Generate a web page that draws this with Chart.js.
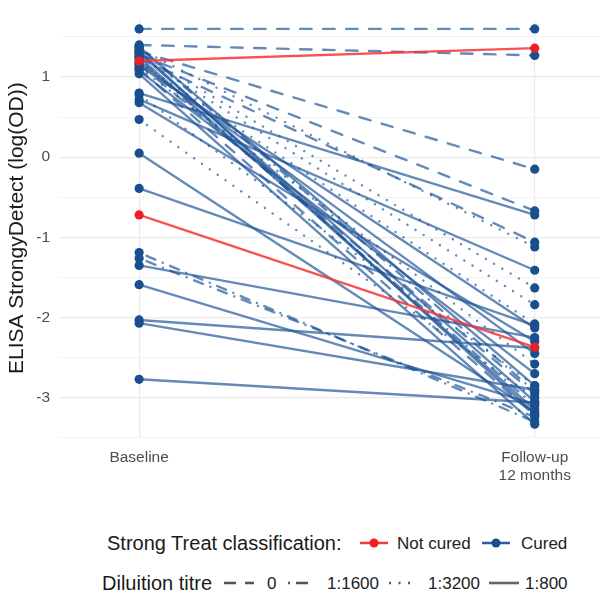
<!DOCTYPE html>
<html>
<head>
<meta charset="utf-8">
<script src="https://cdn.jsdelivr.net/npm/chart.js@4.4.1/dist/chart.umd.min.js"></script>
<style>
  html, body { margin:0; padding:0; background:#fff; }
  body { width:611px; height:601px; position:relative; overflow:hidden; font-family:"Liberation Sans", Arial, sans-serif; }
  #wrap { position:absolute; left:0; top:0; width:611px; height:500px; }
  .lg { position:absolute; white-space:nowrap; color:#1a1a1a; line-height:1; }
  .ttl { font-size:20px; }
  .itm { font-size:17px; color:#222; }
  svg.key { position:absolute; }
</style>
</head>
<body>
<div id="wrap"><canvas id="c" width="611" height="500"></canvas></div>

<div class="lg ttl" style="left:107px; top:533px;">Strong Treat classification:</div>
<svg class="key" style="left:359px; top:533px;" width="30" height="20"><line x1="1" y1="10" x2="29" y2="10" stroke="#F8393C" stroke-width="2.5"/><circle cx="15" cy="10" r="4.5" fill="#F01E24"/></svg>
<div class="lg itm" style="left:397px; top:535px;">Not cured</div>
<svg class="key" style="left:481px; top:533px;" width="30" height="20"><line x1="1" y1="10" x2="29" y2="10" stroke="#2C5E9E" stroke-width="2.5"/><circle cx="15" cy="10" r="4.5" fill="#1A4F8F"/></svg>
<div class="lg itm" style="left:521px; top:535px;">Cured</div>

<div class="lg ttl" style="left:102px; top:573px;">Diluition titre</div>
<svg class="key" style="left:222px; top:573px;" width="34" height="20"><line x1="2" y1="10" x2="32" y2="10" stroke="#555" stroke-width="2.6" stroke-dasharray="12 9"/></svg>
<div class="lg itm" style="left:267px; top:575px;">0</div>
<svg class="key" style="left:286px; top:573px;" width="24" height="20"><line x1="2" y1="10" x2="23" y2="10" stroke="#555" stroke-width="2.6" stroke-dasharray="2 6 12 6"/></svg>
<div class="lg itm" style="left:327px; top:575px;">1:1600</div>
<svg class="key" style="left:387px; top:573px;" width="28" height="20"><line x1="2" y1="10" x2="27" y2="10" stroke="#555" stroke-width="2.6" stroke-dasharray="2 7.5"/></svg>
<div class="lg itm" style="left:428px; top:575px;">1:3200</div>
<svg class="key" style="left:488px; top:573px;" width="32" height="20"><line x1="1" y1="10" x2="31" y2="10" stroke="#666" stroke-width="2.6"/></svg>
<div class="lg itm" style="left:525px; top:575px;">1:800</div>

<script>
// ---- data ----
const timepoints = ["Baseline", ["Follow-up", "12 months"]];
const baseline = [1.60, 1.40, 1.32, 1.28, 1.24, 1.16, 1.10,
                  1.35, 1.30, 1.26, 1.18, 0.47, 1.12, 0.78,
                  -1.19, -1.26, 1.22, 1.37,
                  1.20, -0.72, 0.80, 0.72, 0.68, 0.05, -0.39, -1.35, -1.59, -2.03, -2.07, -2.77,
                  1.38, 1.30, 1.25, 1.18, 1.08, 1.04, 1.14, 1.33];
const followUp = [1.60, 1.27, -0.15, -0.67, -1.06, -2.95, -3.22,
                  -1.12, -1.63, -1.84, -2.08, -3.00, -2.58, -2.85,
                  -3.30, -3.24, -3.10, -2.92,
                  1.36, -2.37, -0.72, -1.41, -2.30, -3.18, -2.10, -2.25, -3.08, -2.38, -2.90, -3.06,
                  -2.85, -3.05, -3.15, -2.45, -2.70, -3.33, -2.13, -3.20];
const status = ["Cured","Cured","Cured","Cured","Cured","Cured","Cured",
                "Cured","Cured","Cured","Cured","Cured","Cured","Cured",
                "Cured","Cured","Cured","Cured",
                "Not cured","Not cured","Cured","Cured","Cured","Cured","Cured","Cured","Cured","Cured","Cured","Cured",
                "Cured","Cured","Cured","Cured","Cured","Cured","Cured","Cured"];
const dilution = ["0","0","0","0","0","0","0",
                  "1:3200","1:3200","1:3200","1:3200","1:3200","1:3200","1:3200",
                  "1:1600","1:1600","1:1600","1:1600",
                  "1:800","1:800","1:800","1:800","1:800","1:800","1:800","1:800","1:800","1:800","1:800","1:800",
                  "1:800","1:800","1:800","1:800","1:800","1:800","1:800","1:800"];
const yTicks = [-3, -2, -1, 0, 1];

// ---- styles ----
const lineColor = { "Cured": "rgba(28,82,150,0.68)", "Not cured": "rgba(248,52,56,0.85)" };
const pointColor = { "Cured": "#1A4F8F", "Not cured": "#F01E24" };
const dashFor = { "0": [11.5, 11.5], "1:1600": [0.1, 8, 9.5, 8], "1:3200": [0.1, 9.5], "1:800": [] };
const FONT = '"Liberation Sans", Arial, sans-serif';

const datasets = baseline.map((b, i) => ({
  data: [{x: 1, y: b}, {x: 2, y: followUp[i]}],
  showLine: true,
  borderColor: lineColor[status[i]],
  borderWidth: 2.4,
  borderDash: dashFor[dilution[i]],
  borderCapStyle: 'round',
  pointRadius: 4.6,
  pointBackgroundColor: pointColor[status[i]],
  pointBorderWidth: 0,
  order: status[i] === "Not cured" ? 0 : 1
}));

new Chart(document.getElementById('c'), {
  type: 'scatter',
  data: { datasets },
  options: {
    responsive: false,
    animation: false,
    events: [],
    layout: { padding: { top: 15, right: 11, left: 5, bottom: 0 } },
    plugins: { legend: { display: false }, tooltip: { enabled: false } },
    scales: {
      x: {
        type: 'linear', min: 0.8, max: 2.165,
        afterBuildTicks: s => { s.ticks = [{value: 1}, {value: 2}]; },
        afterFit: s => { s.height = 63; },
        border: { display: false },
        grid: { color: '#EBEBEB', lineWidth: 1.2, drawTicks: false },
        ticks: {
          padding: 11, color: '#4D4D4D', autoSkip: false, maxRotation: 0,
          font: { size: 15.5, family: FONT },
          callback: v => v === 1 ? timepoints[0] : (v === 2 ? timepoints[1] : '')
        }
      },
      y: {
        min: -3.49, max: 1.72,
        afterBuildTicks: s => { s.ticks = [-3.5,-3,-2.5,-2,-1.5,-1,-0.5,0,0.5,1,1.5].map(v => ({value: v})); },
        afterFit: s => { s.width = 55; },
        border: { display: false },
        grid: {
          drawTicks: false,
          color: ctx => Number.isInteger(ctx.tick.value) ? '#EBEBEB' : '#F3F3F3',
          lineWidth: ctx => Number.isInteger(ctx.tick.value) ? 1.3 : 1
        },
        ticks: {
          padding: 10, color: '#4D4D4D',
          font: { size: 15.5, family: FONT },
          callback: v => yTicks.includes(v) ? String(v) : ''
        },
        title: {
          display: true, text: 'ELISA StrongyDetect (log(OD))', color: '#1a1a1a',
          font: { size: 21, family: FONT },
          padding: { top: 0, bottom: 0 }
        }
      }
    }
  }
});
</script>
</body>
</html>
